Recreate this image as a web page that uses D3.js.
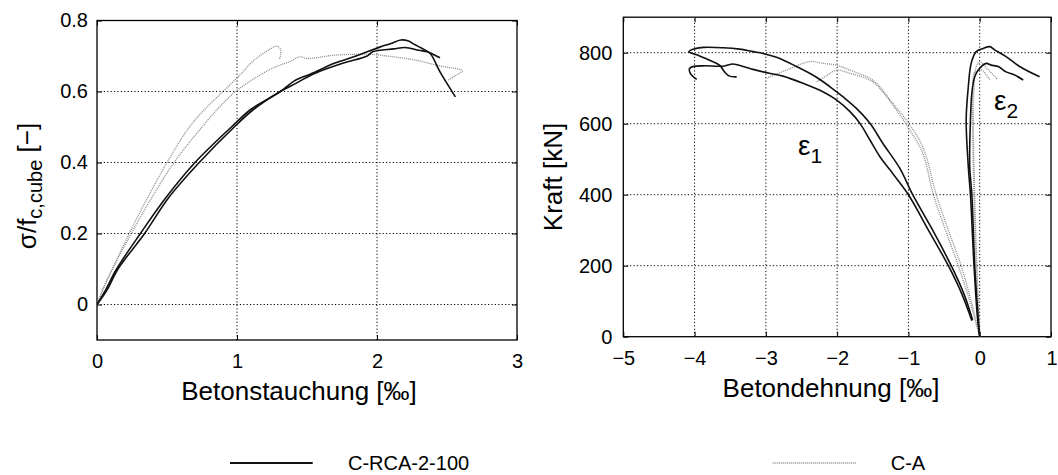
<!DOCTYPE html>
<html><head><meta charset="utf-8">
<script src="https://cdn.jsdelivr.net/npm/d3@7"></script>
<style>
body{margin:0;background:#fff;}
text{font-family:"Liberation Sans",Arial,sans-serif;fill:#000;}
</style></head><body>
<svg id="c" width="1058" height="475"></svg>
<script>
// ---------- Left panel: sigma/f_c,cube vs Betonstauchung ----------
const leftXTicks = [0, 1, 2, 3];
const leftYTicks = [0, 0.2, 0.4, 0.6, 0.8];
// C-RCA-2-100 (solid)
const rcaL1x = [0, 0.06, 0.14, 0.31, 0.49, 0.70, 0.96, 1.10, 1.31, 1.41, 1.53, 1.70, 1.85, 2.02, 2.10, 2.17, 2.22, 2.27, 2.32, 2.38, 2.45, 2.56];
const rcaL1y = [0, 0.04, 0.10, 0.20, 0.30, 0.40, 0.50, 0.55, 0.60, 0.63, 0.65, 0.68, 0.70, 0.725, 0.735, 0.745, 0.743, 0.732, 0.722, 0.707, 0.655, 0.585];
const rcaL2x = [0, 0.07, 0.15, 0.34, 0.51, 0.73, 0.98, 1.12, 1.31, 1.43, 1.55, 1.76, 1.93, 1.97, 2.12, 2.20, 2.30, 2.36, 2.40, 2.45];
const rcaL2y = [0, 0.04, 0.10, 0.20, 0.30, 0.40, 0.50, 0.55, 0.60, 0.625, 0.65, 0.68, 0.70, 0.712, 0.72, 0.724, 0.716, 0.712, 0.705, 0.695];
// C-A (dotted)
const caL1x = [0, 0.05, 0.11, 0.23, 0.36, 0.50, 0.66, 0.77, 0.90, 1.03, 1.10, 1.16, 1.24, 1.28, 1.31, 1.31, 1.30];
const caL1y = [0, 0.05, 0.10, 0.20, 0.30, 0.40, 0.50, 0.55, 0.60, 0.65, 0.68, 0.70, 0.72, 0.728, 0.72, 0.70, 0.69];
const caL2x = [0, 0.05, 0.11, 0.245, 0.39, 0.55, 0.75, 0.86, 0.99, 1.18, 1.28, 1.38, 1.45, 1.50, 1.69, 1.93, 2.07, 2.28, 2.45, 2.61, 2.56, 2.51];
const caL2y = [0, 0.05, 0.10, 0.20, 0.30, 0.40, 0.50, 0.55, 0.60, 0.65, 0.67, 0.685, 0.698, 0.693, 0.702, 0.705, 0.70, 0.688, 0.672, 0.658, 0.645, 0.632];

// ---------- Right panel: Kraft vs Betondehnung ----------
const rightXTicks = [-5, -4, -3, -2, -1, 0, 1];
const rightYTicks = [0, 200, 400, 600, 800];
// C-RCA-2-100 eps1 (solid)
const rcaE1ax = [-0.10, -0.22, -0.40, -0.66, -0.94, -1.12, -1.36, -1.54, -1.73, -1.92, -2.10, -2.29, -2.57, -2.85, -3.04, -3.18, -3.37, -3.60, -3.88, -4.02, -4.08, -3.97, -3.79, -3.65, -3.58, -3.51, -3.41];
const rcaE1ay = [47, 120, 200, 300, 400, 474, 545, 601, 643, 676, 704, 731, 761, 787, 798, 803, 810, 814, 815, 810, 803, 794, 779, 765, 746, 734, 732];
const rcaE1bx = [-0.11, -0.25, -0.44, -0.72, -1.00, -1.26, -1.40, -1.54, -1.68, -1.82, -2.01, -2.20, -2.48, -2.76, -2.95, -3.18, -3.32, -3.46, -3.60, -3.88, -4.02, -4.07, -4.06, -3.97];
const rcaE1by = [45, 120, 200, 300, 400, 470, 507, 554, 601, 634, 667, 690, 714, 734, 742, 753, 761, 768, 762, 763, 761, 756, 742, 725];
// C-RCA-2-100 eps2 (solid)
const rcaE2ax = [0, -0.03, -0.08, -0.13, -0.16, -0.19, -0.16, -0.12, -0.05, 0.05, 0.14, 0.21, 0.37, 0.56, 0.84];
const rcaE2ay = [0, 50, 200, 400, 479, 610, 704, 770, 803, 812, 817, 808, 789, 761, 732];
const rcaE2bx = [0, -0.02, -0.07, -0.11, -0.14, -0.13, -0.11, -0.07, 0.0, 0.09, 0.16, 0.26, 0.37, 0.49, 0.61];
const rcaE2by = [0, 50, 200, 400, 479, 610, 686, 732, 756, 770, 765, 761, 746, 737, 723];
// C-A eps1 (dotted)
const caE1ax = [0, -0.12, -0.26, -0.44, -0.61, -0.80, -1.03, -1.26, -1.40, -1.54, -1.64, -1.82, -2.01, -2.20, -2.38, -2.70, -2.99];
const caE1ay = [0, 100, 200, 300, 400, 535, 610, 667, 704, 728, 737, 751, 765, 770, 775, 752, 728];
const caE1bx = [0, -0.14, -0.30, -0.48, -0.65, -0.80, -0.98, -1.17, -1.36, -1.50, -1.64, -1.82, -2.01, -2.15, -2.29];
const caE1by = [0, 100, 200, 300, 400, 517, 582, 639, 690, 718, 731, 742, 751, 735, 718];
// C-A eps2 (dotted)
const caE2ax = [0, -0.04, -0.07, -0.09, -0.08, -0.05, 0.0, 0.08, 0.25];
const caE2ay = [0, 200, 400, 600, 700, 760, 775, 760, 725];
const caE2bx = [0, -0.05, -0.08, -0.10, -0.10, -0.07, 0.02, 0.10, 0.15];
const caE2by = [0, 200, 400, 600, 700, 745, 752, 735, 722];

// ---------- Legend ----------
const legendLabels = ["C-RCA-2-100", "C-A"];

const svg = d3.select("#c");
const zip = (xs, ys) => xs.map((x, i) => [x, ys[i]]);
const fmt = d => d < 0 ? "\u2212" + Math.abs(d) : String(d);

function panel(opt) {
  const x = d3.scaleLinear().domain(opt.xd).range(opt.xr);
  const y = d3.scaleLinear().domain(opt.yd).range(opt.yr);
  const g = svg.append("g");
  const [x0, x1] = opt.xr, [y0, y1] = opt.yr; // y0 bottom, y1 top
  // grid
  const gx = opt.xt.filter(v => x(v) > x0 + 1 && x(v) < x1 - 1);
  const gy = opt.yt.filter(v => y(v) < y0 - 1 && y(v) > y1 + 1);
  g.selectAll(".gx").data(gx).join("line")
    .attr("x1", d => x(d)).attr("x2", d => x(d)).attr("y1", y0).attr("y2", y1)
    .attr("stroke", "#000").attr("stroke-width", 1).attr("stroke-dasharray", "1.2,2.2");
  g.selectAll(".gy").data(gy).join("line")
    .attr("y1", d => y(d)).attr("y2", d => y(d)).attr("x1", x0).attr("x2", x1)
    .attr("stroke", "#000").attr("stroke-width", 1).attr("stroke-dasharray", "1.2,2.2");
  // axes
  const fs = "20px";
  const ax = g.append("g").attr("transform", `translate(0,${y0})`)
    .call(d3.axisBottom(x).tickValues(opt.xt).tickSizeInner(-5).tickSizeOuter(0).tickPadding(opt.xpad).tickFormat(fmt));
  const ay = g.append("g").attr("transform", `translate(${x0},0)`)
    .call(d3.axisLeft(y).tickValues(opt.yt).tickSizeInner(-5).tickSizeOuter(0).tickPadding(opt.ypad).tickFormat(fmt));
  const axT = g.append("g").attr("transform", `translate(0,${y1})`)
    .call(d3.axisTop(x).tickValues(opt.xt).tickSizeInner(-5).tickSizeOuter(0).tickFormat(""));
  const ayR = g.append("g").attr("transform", `translate(${x1},0)`)
    .call(d3.axisRight(y).tickValues(opt.yt).tickSizeInner(-5).tickSizeOuter(0).tickFormat(""));
  [ax, ay, axT, ayR].forEach(a => {
    a.select(".domain").remove();
    a.selectAll("line").attr("stroke", "#000");
    a.selectAll("text").style("font-size", fs).attr("fill", "#000")
      .style("font-family", "'Liberation Sans',Arial,sans-serif");
  });
  g.append("rect").attr("x", x0).attr("y", y1).attr("width", x1 - x0).attr("height", y0 - y1)
    .attr("fill", "none").attr("stroke", "#000").attr("stroke-width", 1.3);
  // series
  const line = d3.line().x(d => x(d[0])).y(d => y(d[1])).curve(d3.curveCatmullRom.alpha(0.5));
  const clipId = "clip" + opt.id;
  svg.append("clipPath").attr("id", clipId).append("rect")
    .attr("x", x0).attr("y", y1).attr("width", x1 - x0).attr("height", y0 - y1);
  const sg = g.append("g").attr("clip-path", `url(#${clipId})`);
  opt.dotted.forEach(s => sg.append("path").attr("d", line(s)).attr("fill", "none")
    .attr("stroke", "#8a8a8a").attr("stroke-width", 1.3).attr("stroke-dasharray", "1,1"));
  opt.solid.forEach(s => sg.append("path").attr("d", line(s)).attr("fill", "none")
    .attr("stroke", "#111").attr("stroke-width", 1.6).attr("stroke-linejoin", "round"));
  return {x, y, g, ax};
}

const L = panel({
  id: "L", xd: [0, 3], xr: [97, 517], yd: [-0.1, 0.8], yr: [340, 20.5],
  xt: leftXTicks, yt: leftYTicks, xpad: 14, ypad: 9,
  solid: [zip(rcaL1x, rcaL1y), zip(rcaL2x, rcaL2y)],
  dotted: [zip(caL1x, caL1y), zip(caL2x, caL2y)]
});
const R = panel({
  id: "R", xd: [-5, 1], xr: [623.3, 1051], yd: [0, 900], yr: [336.7, 17.2],
  xt: rightXTicks, yt: rightYTicks, xpad: 14, ypad: 11,
  solid: [zip(rcaE1ax, rcaE1ay), zip(rcaE1bx, rcaE1by), zip(rcaE2ax, rcaE2ay), zip(rcaE2bx, rcaE2by)],
  dotted: [zip(caE1ax, caE1ay), zip(caE1bx, caE1by), zip(caE2ax, caE2ay), zip(caE2bx, caE2by)]
});
// keep the last tick label of the right panel inside the picture
R.ax.selectAll(".tick text").filter(d => d === 1).attr("text-anchor", "end").attr("dx", "6");

// axis titles
svg.append("text").attr("x", 299).attr("y", 400).attr("text-anchor", "middle")
  .style("font-size", "26px").text("Betonstauchung [‰]");
svg.append("text").attr("x", 831).attr("y", 397).attr("text-anchor", "middle")
  .style("font-size", "26px").text("Betondehnung [‰]");
const yl = svg.append("text").attr("transform", "translate(36,186) rotate(-90)")
  .attr("text-anchor", "middle").style("font-size", "26px");
yl.append("tspan").text("σ/f");
yl.append("tspan").attr("dy", 6).style("font-size", "20px").text("c,cube");
yl.append("tspan").attr("dy", -6).text(" [−]");
svg.append("text").attr("transform", "translate(562,177) rotate(-90)")
  .attr("text-anchor", "middle").style("font-size", "26px").text("Kraft [kN]");

// epsilon labels
const e1 = svg.append("text").attr("x", R.x(-2.55)).attr("y", 155).style("font-size", "28px");
e1.append("tspan").text("ε");
e1.append("tspan").attr("dy", 8).style("font-size", "21px").text("1");
const e2 = svg.append("text").attr("x", R.x(0.2)).attr("y", 110).style("font-size", "28px");
e2.append("tspan").text("ε");
e2.append("tspan").attr("dy", 8).style("font-size", "21px").text("2");

// legend
const lg = svg.append("g");
lg.append("line").attr("x1", 230).attr("x2", 312.7).attr("y1", 463).attr("y2", 463)
  .attr("stroke", "#111").attr("stroke-width", 2);
lg.append("text").attr("x", 348).attr("y", 470).style("font-size", "20px").text(legendLabels[0]);
lg.append("line").attr("x1", 772.7).attr("x2", 856.7).attr("y1", 463).attr("y2", 463)
  .attr("stroke", "#8a8a8a").attr("stroke-width", 1.3).attr("stroke-dasharray", "1,1");
lg.append("text").attr("x", 890.7).attr("y", 470).style("font-size", "20px").text(legendLabels[1]);
</script>
</body></html>
